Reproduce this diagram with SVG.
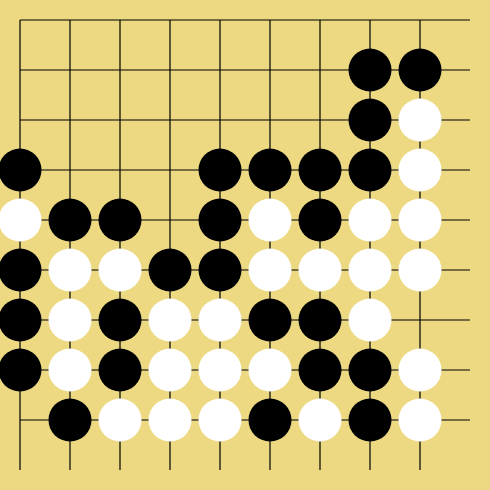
<svg xmlns="http://www.w3.org/2000/svg" width="490" height="490" viewBox="0 0 490 490">
<style>
.g{stroke:#000;stroke-width:1.2;fill:none}
.b{fill:#000}
.w{fill:#fff}
</style>
<rect width="490" height="490" fill="#ecd982"/>
<g id="grid" class="g">
<path d="M20 20H470M20 70H470M20 120H470M20 170H470M20 220H470M20 270H470M20 320H470M20 370H470M20 420H470"/>
<path d="M20 20V470M70 20V470M120 20V470M170 20V470M220 20V470M270 20V470M320 20V470M370 20V470M420 20V470"/>
</g>
<g id="stones">
<circle class="b" cx="370" cy="70" r="21.5"/><circle class="b" cx="420" cy="70" r="21.5"/>
<circle class="b" cx="370" cy="120" r="21.5"/><circle class="w" cx="420" cy="120" r="21.5"/>
<circle class="b" cx="20" cy="170" r="21.5"/><circle class="b" cx="220" cy="170" r="21.5"/><circle class="b" cx="270" cy="170" r="21.5"/><circle class="b" cx="320" cy="170" r="21.5"/><circle class="b" cx="370" cy="170" r="21.5"/><circle class="w" cx="420" cy="170" r="21.5"/>
<circle class="w" cx="20" cy="220" r="21.5"/><circle class="b" cx="70" cy="220" r="21.5"/><circle class="b" cx="120" cy="220" r="21.5"/><circle class="b" cx="220" cy="220" r="21.5"/><circle class="w" cx="270" cy="220" r="21.5"/><circle class="b" cx="320" cy="220" r="21.5"/><circle class="w" cx="370" cy="220" r="21.5"/><circle class="w" cx="420" cy="220" r="21.5"/>
<circle class="b" cx="20" cy="270" r="21.5"/><circle class="w" cx="70" cy="270" r="21.5"/><circle class="w" cx="120" cy="270" r="21.5"/><circle class="b" cx="170" cy="270" r="21.5"/><circle class="b" cx="220" cy="270" r="21.5"/><circle class="w" cx="270" cy="270" r="21.5"/><circle class="w" cx="320" cy="270" r="21.5"/><circle class="w" cx="370" cy="270" r="21.5"/><circle class="w" cx="420" cy="270" r="21.5"/>
<circle class="b" cx="20" cy="320" r="21.5"/><circle class="w" cx="70" cy="320" r="21.5"/><circle class="b" cx="120" cy="320" r="21.5"/><circle class="w" cx="170" cy="320" r="21.5"/><circle class="w" cx="220" cy="320" r="21.5"/><circle class="b" cx="270" cy="320" r="21.5"/><circle class="b" cx="320" cy="320" r="21.5"/><circle class="w" cx="370" cy="320" r="21.5"/>
<circle class="b" cx="20" cy="370" r="21.5"/><circle class="w" cx="70" cy="370" r="21.5"/><circle class="b" cx="120" cy="370" r="21.5"/><circle class="w" cx="170" cy="370" r="21.5"/><circle class="w" cx="220" cy="370" r="21.5"/><circle class="w" cx="270" cy="370" r="21.5"/><circle class="b" cx="320" cy="370" r="21.5"/><circle class="b" cx="370" cy="370" r="21.5"/><circle class="w" cx="420" cy="370" r="21.5"/>
<circle class="b" cx="70" cy="420" r="21.5"/><circle class="w" cx="120" cy="420" r="21.5"/><circle class="w" cx="170" cy="420" r="21.5"/><circle class="w" cx="220" cy="420" r="21.5"/><circle class="b" cx="270" cy="420" r="21.5"/><circle class="w" cx="320" cy="420" r="21.5"/><circle class="b" cx="370" cy="420" r="21.5"/><circle class="w" cx="420" cy="420" r="21.5"/>
</g>
</svg>
